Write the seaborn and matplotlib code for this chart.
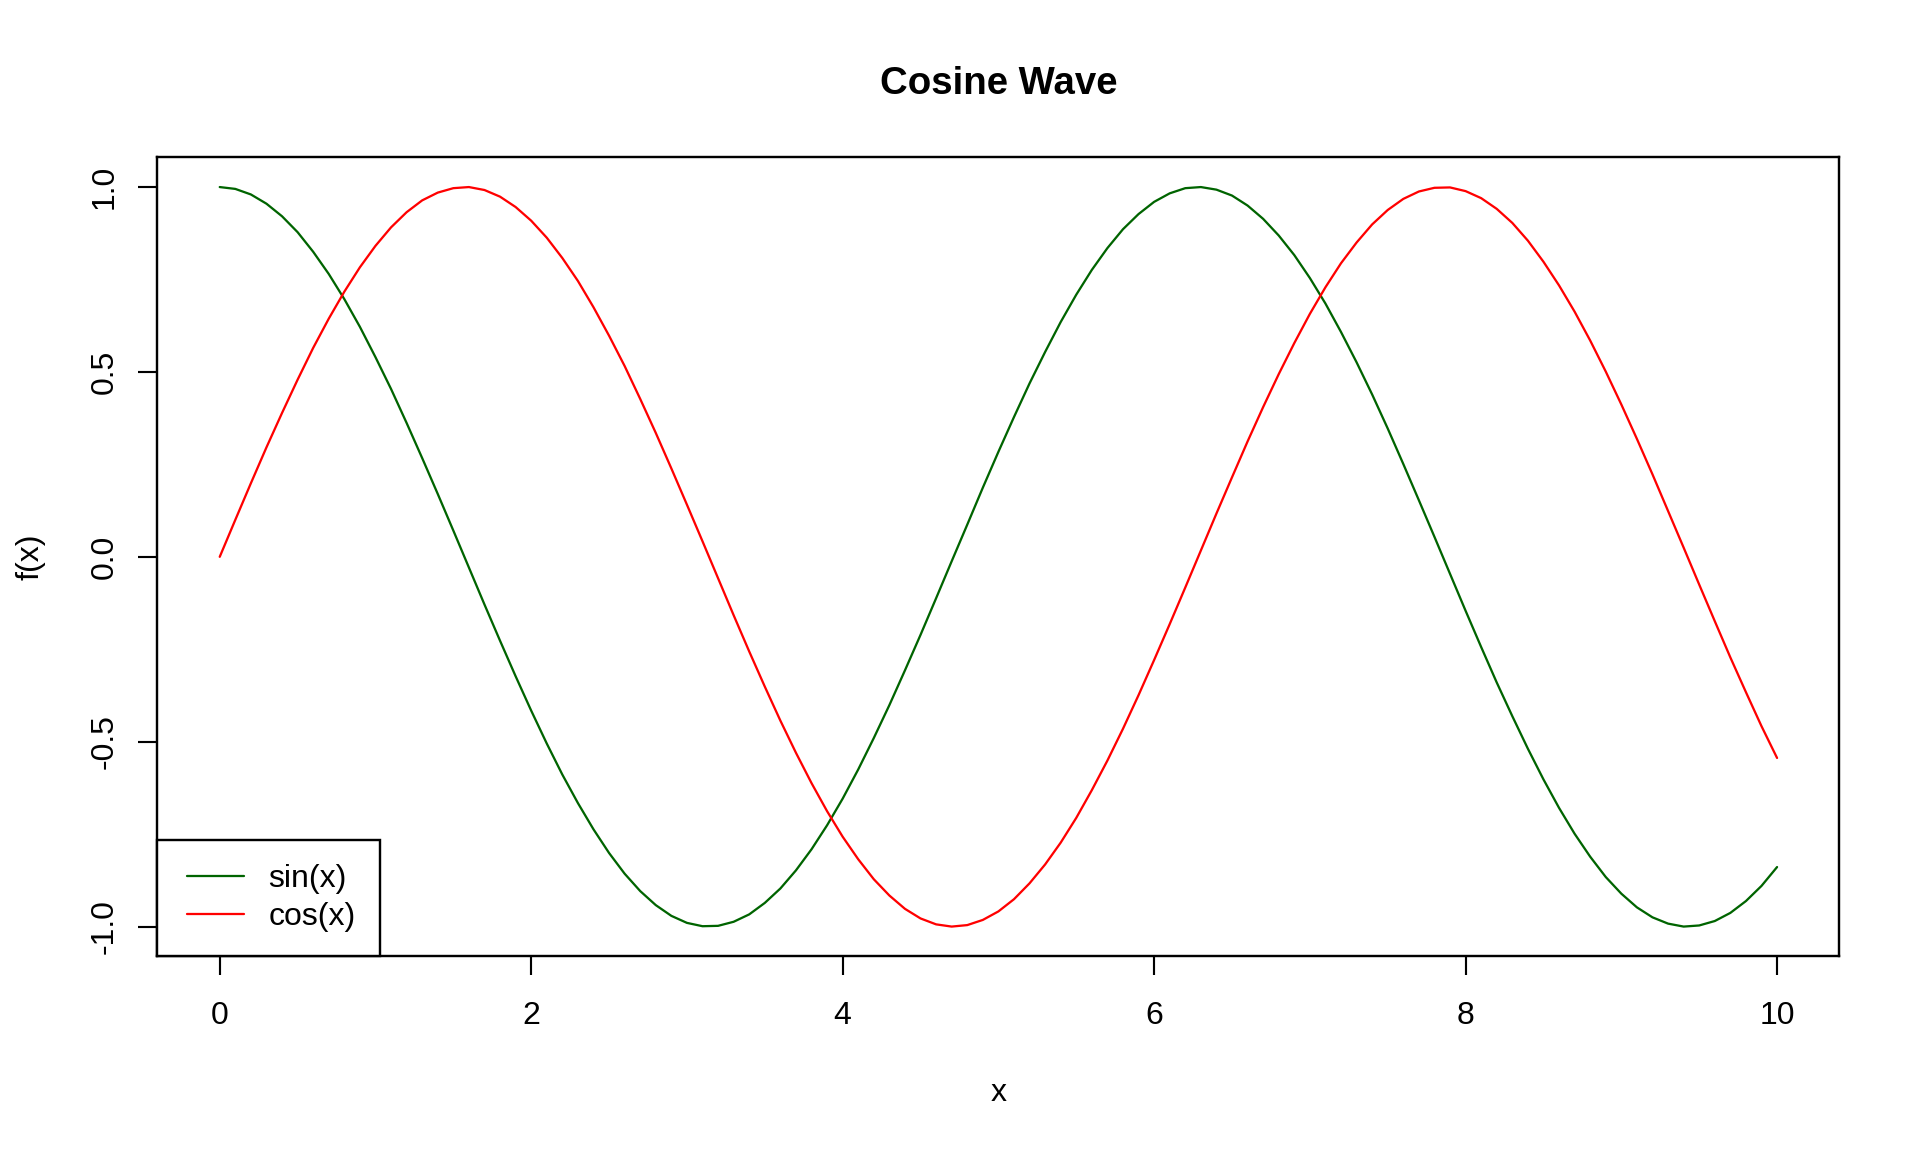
import matplotlib
matplotlib.use("Agg")
import matplotlib.pyplot as plt
from matplotlib.legend_handler import HandlerLine2D
import seaborn as sns

# ---------------- data ----------------
x_values = [0.0, 0.1, 0.2, 0.3, 0.4, 0.5, 0.6, 0.7, 0.8, 0.9,
            1.0, 1.1, 1.2, 1.3, 1.4, 1.5, 1.6, 1.7, 1.8, 1.9,
            2.0, 2.1, 2.2, 2.3, 2.4, 2.5, 2.6, 2.7, 2.8, 2.9,
            3.0, 3.1, 3.2, 3.3, 3.4, 3.5, 3.6, 3.7, 3.8, 3.9,
            4.0, 4.1, 4.2, 4.3, 4.4, 4.5, 4.6, 4.7, 4.8, 4.9,
            5.0, 5.1, 5.2, 5.3, 5.4, 5.5, 5.6, 5.7, 5.8, 5.9,
            6.0, 6.1, 6.2, 6.3, 6.4, 6.5, 6.6, 6.7, 6.8, 6.9,
            7.0, 7.1, 7.2, 7.3, 7.4, 7.5, 7.6, 7.7, 7.8, 7.9,
            8.0, 8.1, 8.2, 8.3, 8.4, 8.5, 8.6, 8.7, 8.8, 8.9,
            9.0, 9.1, 9.2, 9.3, 9.4, 9.5, 9.6, 9.7, 9.8, 9.9,
            10.0]

# dark green curve (legend label "sin(x)")
green_series = [1.000, 0.995, 0.980, 0.955, 0.921, 0.878, 0.825, 0.765, 0.697, 0.622,
                0.540, 0.454, 0.362, 0.267, 0.170, 0.071, -0.029, -0.129, -0.227, -0.323,
                -0.416, -0.505, -0.589, -0.666, -0.737, -0.801, -0.857, -0.904, -0.942, -0.971,
                -0.990, -0.999, -0.998, -0.987, -0.967, -0.936, -0.897, -0.848, -0.791, -0.726,
                -0.654, -0.575, -0.490, -0.401, -0.307, -0.211, -0.112, -0.012, 0.087, 0.187,
                0.284, 0.378, 0.469, 0.554, 0.635, 0.709, 0.776, 0.835, 0.886, 0.927,
                0.960, 0.983, 0.997, 1.000, 0.993, 0.977, 0.950, 0.914, 0.869, 0.816,
                0.754, 0.685, 0.608, 0.526, 0.439, 0.347, 0.251, 0.153, 0.054, -0.046,
                -0.146, -0.244, -0.340, -0.431, -0.519, -0.602, -0.679, -0.749, -0.811, -0.866,
                -0.911, -0.948, -0.975, -0.992, -1.000, -0.997, -0.985, -0.963, -0.931, -0.890,
                -0.839]

# red curve (legend label "cos(x)")
red_series = [0.000, 0.100, 0.199, 0.296, 0.389, 0.479, 0.565, 0.644, 0.717, 0.783,
              0.841, 0.891, 0.932, 0.964, 0.985, 0.997, 1.000, 0.992, 0.974, 0.946,
              0.909, 0.863, 0.808, 0.746, 0.675, 0.598, 0.516, 0.427, 0.335, 0.239,
              0.141, 0.042, -0.058, -0.158, -0.256, -0.351, -0.443, -0.530, -0.612, -0.688,
              -0.757, -0.818, -0.872, -0.916, -0.952, -0.978, -0.994, -1.000, -0.996, -0.982,
              -0.959, -0.926, -0.883, -0.832, -0.773, -0.706, -0.631, -0.551, -0.465, -0.374,
              -0.279, -0.182, -0.083, 0.017, 0.117, 0.215, 0.312, 0.405, 0.494, 0.578,
              0.657, 0.729, 0.794, 0.850, 0.899, 0.938, 0.968, 0.988, 0.998, 0.999,
              0.989, 0.970, 0.941, 0.903, 0.855, 0.798, 0.734, 0.663, 0.585, 0.501,
              0.412, 0.319, 0.223, 0.124, 0.025, -0.075, -0.174, -0.272, -0.366, -0.458,
              -0.544]

legend_labels = ["sin(x)", "cos(x)"]
series_colors = ["#006400", "#FF0000"]
x_ticks = [0, 2, 4, 6, 8, 10]
x_tick_labels = ["0", "2", "4", "6", "8", "10"]
y_ticks = [-1.0, -0.5, 0.0, 0.5, 1.0]
y_tick_labels = ["-1.0", "-0.5", "0.0", "0.5", "1.0"]
chart_title = "Cosine Wave"
x_label = "x"
y_label = "f(x)"

# ---------------- style ----------------
sns.set_theme(style="white")
plt.rcParams['font.family'] = ['Liberation Sans', 'DejaVu Sans']
plt.rcParams['text.color'] = 'black'
plt.rcParams['axes.labelcolor'] = 'black'
plt.rcParams['xtick.color'] = 'black'
plt.rcParams['ytick.color'] = 'black'
plt.rcParams['lines.solid_joinstyle'] = 'round'

fig = plt.figure(figsize=(10, 6), dpi=192)
fig.patch.set_facecolor('white')
ax = fig.add_axes([0.082, 0.17, 0.876, 0.6933])

sns.lineplot(x=x_values, y=green_series, color=series_colors[0], linewidth=0.85,
             label=legend_labels[0], ax=ax, sort=False, estimator=None)
sns.lineplot(x=x_values, y=red_series, color=series_colors[1], linewidth=0.85,
             label=legend_labels[1], ax=ax, sort=False, estimator=None)

ax.set_xlim(-0.4, 10.4)
ax.set_ylim(-1.08, 1.08)
ax.set_xticks(x_ticks)
ax.set_xticklabels(x_tick_labels)
ax.set_yticks(y_ticks)
ax.set_yticklabels(y_tick_labels)

for s in ax.spines.values():
    s.set_visible(True)
    s.set_color('black')
    s.set_linewidth(0.9)

ax.tick_params(axis='both', direction='out', length=7.2, width=0.8, color='black',
               labelsize=12, labelcolor='black', bottom=True, left=True)
ax.tick_params(axis='x', pad=9.5)
ax.tick_params(axis='y', pad=7.0)
for lab in ax.get_yticklabels():
    lab.set_rotation(90)
    lab.set_va('center')

ax.set_title(chart_title, fontsize=14.4, fontweight='bold', pad=0, y=1.0925, va='center')
ax.set_xlabel(x_label, fontsize=12)
ax.set_ylabel(y_label, fontsize=12)
ax.xaxis.label.set_va('center')
ax.yaxis.label.set_va('center')
ax.yaxis.label.set_ha('center')
ax.xaxis.set_label_coords(0.5, -137 / 798.7)
ax.yaxis.set_label_coords(-127 / 1681.9, 0.5)

xpad = 0.17
leg = ax.legend(loc='lower left', borderaxespad=0, frameon=True, fancybox=False,
                edgecolor='black', framealpha=1, fontsize=12, handlelength=1.8 + xpad,
                handletextpad=0.75, borderpad=0.75, labelspacing=0.24,
                handler_map={matplotlib.lines.Line2D: HandlerLine2D(xpad=xpad)})
leg.get_frame().set_linewidth(0.9)
for line in leg.get_lines():
    line.set_linewidth(0.85)

fig.savefig('out.png', dpi=192, facecolor='white')
